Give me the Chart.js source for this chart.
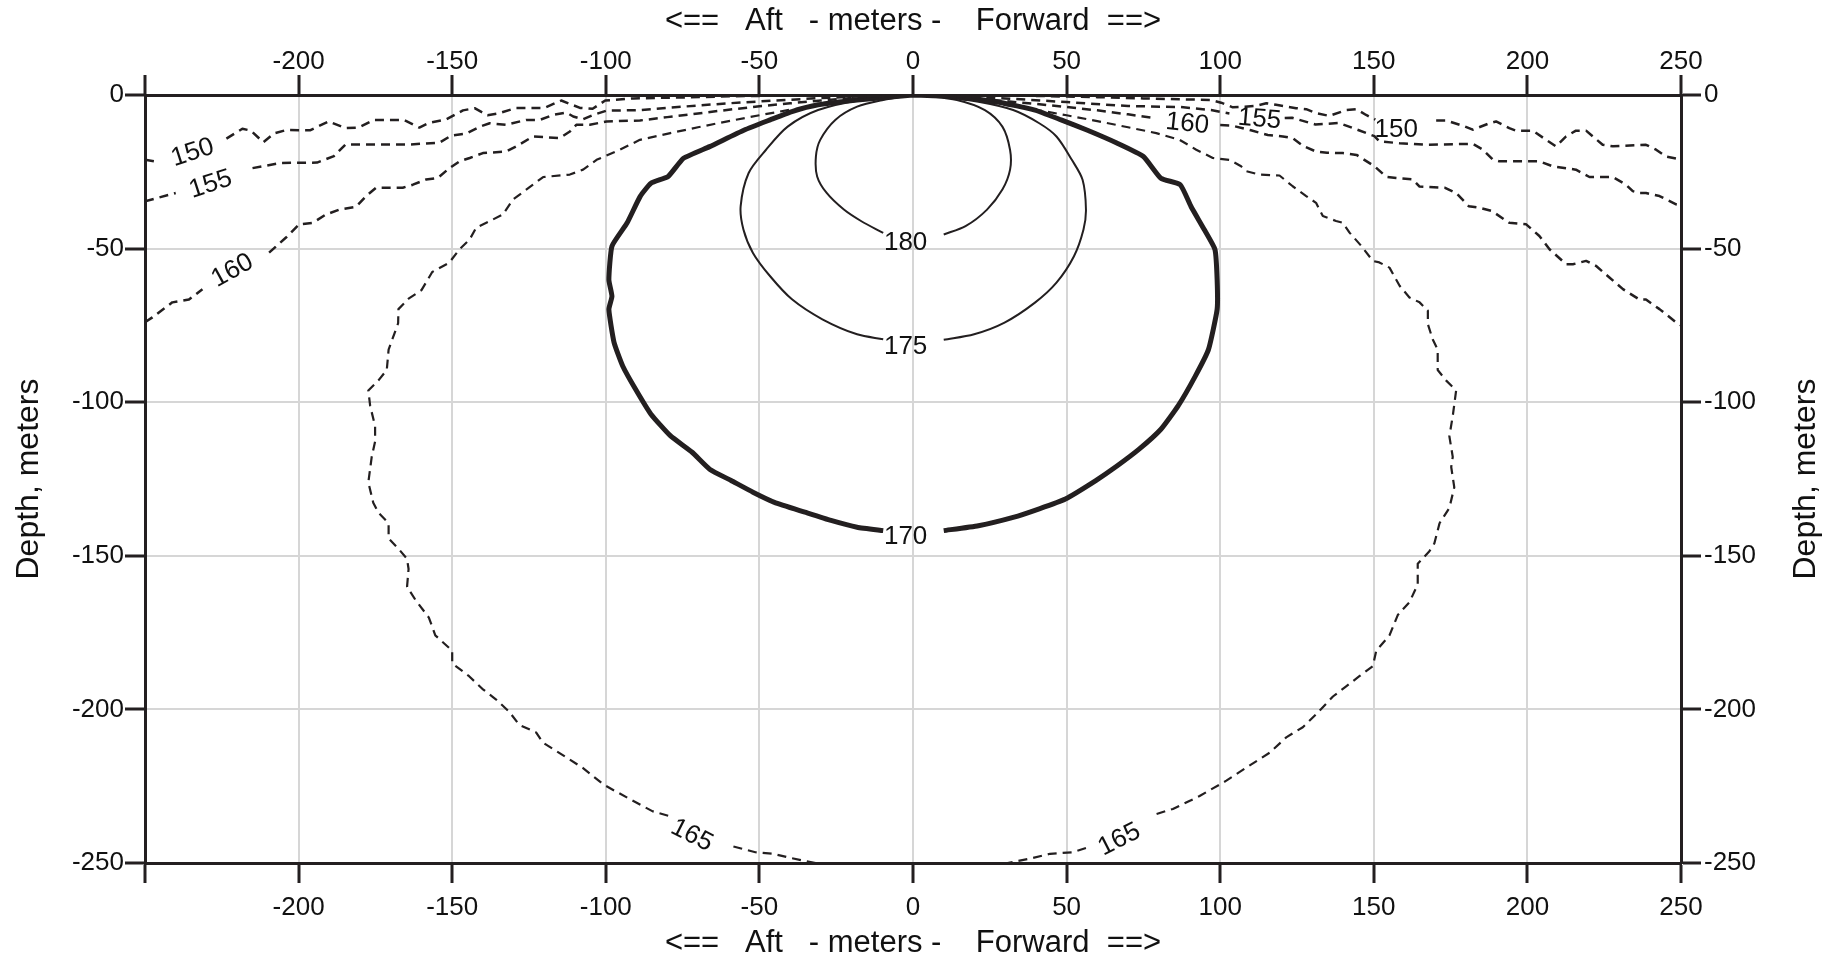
<!DOCTYPE html>
<html>
<head>
<meta charset="utf-8">
<script src="https://cdn.jsdelivr.net/npm/chart.js@4.4.0/dist/chart.umd.min.js"></script>
<style>
  html, body { margin: 0; padding: 0; background: #fff; }
  #chart { display: block; }
</style>
</head>
<body>
<canvas id="chart" width="1837" height="963"></canvas>
<script>
// tick values for both axes
const xTickValues = [-250, -200, -150, -100, -50, 0, 50, 100, 150, 200, 250];
const yTickValues = [0, -50, -100, -150, -200, -250];
const xAxisTitle = "<==   Aft   - meters -    Forward  ==>";
const yAxisTitle = "Depth, meters";

// contour lines, [x, depth] in meters; null = gap where the level label sits
const contour150 = [
  [-250,-21.1],[-247,-21.6], null,
  [-223.5,-14.2],[-218.3,-11.0],[-215.5,-11.6],[-211.5,-15.4],[-208,-12.5],[-204,-11.4],[-196.3,-11.5],
  [-190.2,-8.6],[-184.7,-10.8],[-180.5,-10.6],[-175.5,-8.1],[-165.8,-8.1],[-160.7,-10.6],[-157.6,-9.1],
  [-152,-8.0],[-146.5,-5.0],[-142.7,-4.3],[-138.5,-6.6],[-135,-6.0],[-129.2,-4.2],[-120,-4.2],[-114.5,-1.8],
  [-108.4,-4.2],[-104.3,-4.5],[-100.2,-1.8],[-91,-1.1],[-75,-0.8],[-58.6,-0.4],[-40,-0.2],[-20,-0.1],[0,0],
  [20,-0.1],[40,-0.3],[60,-0.7],[75,-1.1],[86.8,-1.4],[97,-1.6],[100.3,-2.5],[104.1,-4.0],[108,-3.8],
  [111.7,-3.5],[115,-2.7],[118.2,-3.2],[124.7,-4.3],[128,-4.6],[131.2,-5.9],[135.5,-6.8],[141,-4.9],
  [144.3,-4.6],[147.5,-6.5],[150.5,-8.0], null,
  [170.3,-8.3],[173.5,-8.3],[179,-10],[182.2,-11.3],[187.6,-9.2],[189.8,-8.6],[194.1,-10.8],[196.3,-11.6],
  [201.7,-11.6],[206.1,-14.6],[209.3,-16.7],[212.6,-13.5],[215.8,-11.6],[219.1,-11.6],[221.3,-13.5],
  [224.5,-16.2],[227.8,-16.7],[238.6,-16.2],[241.9,-17.8],[245.1,-20],[250,-21]
];
const contour155 = [
  [-250,-34.6],[-240,-31.9], null,
  [-215,-23.8],[-205.7,-22.1],[-194,-22.0],[-188.5,-19.9],[-184.7,-16.1],[-163.7,-16.1],[-154.1,-15.5],
  [-150.3,-13.2],[-145.5,-12.6],[-141,-10.3],[-137.8,-9.2],[-132.4,-9.7],[-125.9,-8.1],[-121.5,-8.1],
  [-117.2,-6.5],[-112.8,-5.7],[-110.6,-7.0],[-107.4,-7.9],[-104.1,-6.5],[-99.8,-5.1],[-88.9,-4.9],
  [-75,-3.8],[-60,-2.7],[-45,-1.8],[-30,-1.0],[-15,-0.4],[0,0],
  [15,-0.4],[30,-1.1],[50,-2.3],[70,-3.6],[86.8,-3.9],[97,-4.9],[103,-6.0], null,
  [121,-7.5],[123.4,-7.4],[131,-9.6],[138.7,-9.1],[144.4,-11.2],[150.2,-13.4],[151.8,-15.1],[158.4,-15.7],
  [167,-16.2],[182.2,-15.9],[185.5,-17.8],[188.7,-21],[190.9,-21.6],[203.9,-21.6],[208.2,-23.2],
  [215.8,-24.3],[220.2,-26.7],[227.8,-26.7],[232.1,-29.2],[234.3,-31.3],[236.4,-31.9],[238.6,-31.9],
  [243,-32.9],[248.4,-35.6],[250,-35.8]
];
const contour160 = [
  [-250,-74],[-247.6,-72.4],[-241.1,-67.5],[-235.7,-66.6],[-231.3,-63.2], null,
  [-209.6,-51.3],[-204.1,-46.4],[-199.8,-42.1],[-195.4,-41.6],[-191.1,-38.9],[-186.7,-37.3],[-181.3,-36.4],
  [-178,-32.9],[-174.8,-30.2],[-166.1,-30.2],[-162.8,-29.2],[-158.5,-27.5],[-154.7,-27],[-150.9,-23.8],
  [-147.6,-21.6],[-144.3,-20.5],[-140,-18.9],[-132.4,-18.4],[-129.1,-16.7],[-123.7,-13.5],[-115,-14],
  [-111.7,-11.9],[-109.6,-9.7],[-105.2,-9.7],[-99.8,-8.6],[-88.9,-8.3],[-80,-7.2],[-70,-6.0],[-60,-4.8],
  [-50,-3.7],[-40,-2.7],[-30,-1.8],[-20,-1.0],[-10,-0.4],[0,0],
  [10,-0.4],[20,-1.1],[30,-2.0],[40,-2.9],[50,-3.9],[60,-5.0],[70,-6.3],[78,-7.4], null,
  [100,-9.8],[104,-10],[110,-11.5],[115.5,-13],[120.4,-13.5],[123.5,-14],[127.2,-16.7],[131.2,-18.4],
  [134.8,-18.8],[139.9,-18.9],[144.4,-19.5],[150.2,-23.2],[154,-26.6],[157.3,-27],[162.7,-27.5],
  [164.9,-29.8],[173.2,-30.2],[176.8,-31.9],[180.9,-36.2],[184.4,-36.7],[188.5,-37.8],[194.1,-41.6],
  [199.6,-42.1],[203.9,-45.9],[207.2,-50.2],[212.6,-55.1],[214.8,-55.1],[219.1,-54],[222.3,-55.6],
  [226.7,-59.4],[231.1,-63.2],[236.5,-66.6],[238.6,-66.6],[243,-69.7],[248.4,-74],[250,-75]
];
const contour165 = [
  [-31.7,-250],[-39.7,-248.4],[-45.5,-247],[-51.3,-246.5],[-58.6,-244.6], null,
  [-79.7,-234.6],[-84.7,-233.2],[-92,-229.3],[-100.7,-224.5],[-107.4,-219.1],[-114,-214.9],[-120.5,-210.8],
  [-122.7,-207.5],[-128.2,-205],[-131.4,-200.8],[-135.8,-196.7],[-140.2,-193.3],[-144.5,-189.2],[-150,-185],
  [-150,-180.9],[-155.5,-175.9],[-157.6,-170.1],[-162,-164.3],[-164.7,-160.1],[-164.2,-154.3],[-164.7,-151],
  [-167.5,-147.7],[-170.7,-144.3],[-170.7,-139.4],[-174,-136],[-175.7,-132.7],[-177.3,-126.1],[-176.2,-117.8],
  [-175.1,-112.8],[-175.1,-107.8],[-176.7,-101.2],[-177.3,-96.2],[-174,-92.9],[-171.3,-89.5],[-170.7,-82.9],
  [-167.6,-74.3],[-167.5,-69.7],[-164.2,-66.3],[-160,-63.5],[-158.5,-61],[-156.5,-57.6],[-151,-54.6],
  [-147.6,-50.2],[-144.3,-47],[-142.2,-43.2],[-138.9,-41.6],[-133.5,-38.9],[-130.2,-34],[-123.7,-29.2],
  [-120.4,-26.7],[-111.7,-25.9],[-107.4,-24.3],[-103,-21.1],[-95.4,-17.8],[-88.9,-14.6],[-79,-12.4],
  [-70,-10.5],[-60,-8.5],[-50,-6.6],[-40,-4.8],[-30,-3.2],[-20,-1.8],[-10,-0.7],[0,0],
  [10,-0.7],[20,-1.8],[30,-3.2],[40,-4.8],[50,-6.6],[60,-8.5],[70,-10.5],[79.2,-12.4],[86.8,-14.6],
  [92.2,-17.8],[97.6,-20.5],[103,-21.1],[106.8,-23.2],[108.5,-24.8],[112.8,-25.9],[119.3,-26.2],
  [123.6,-29.7],[128,-32.9],[131.2,-35.1],[133.4,-39.4],[137.7,-41],[139.9,-41.6],[142.1,-44.8],
  [145.9,-49.1],[149.7,-54],[151.8,-54.5],[155.1,-56.2],[158.4,-62.1],[161.6,-65.9],[164.9,-67.5],
  [167.6,-70.2],[167.6,-74.6],[169.2,-79.6],[170.8,-82.9],[170.8,-89.5],[173.5,-92.9],[176.8,-96.2],
  [175.7,-104.5],[174.6,-111.1],[175.7,-117.8],[175.2,-121.1],[176.2,-127.7],[174.6,-134.4],[171.4,-139.4],
  [169.7,-146],[168.1,-148.5],[164.3,-152.6],[164.3,-159.3],[161.6,-165.1],[157.8,-169.3],[155.1,-175.9],
  [150.8,-180.9],[149.7,-185.9],[145.3,-189.2],[141,-192.5],[136.7,-195.8],[131.2,-201.6],[126.9,-205.8],
  [121.5,-209.1],[116.1,-214.1],[109.5,-218.3],[102,-223.2],[93.3,-228.2],[84.6,-232.4],[78.1,-234.4], null,
  [56.3,-245.1],[51.9,-246.5],[44.6,-247],[38.8,-248.4],[30.8,-250]
];
const contour170 = [
  [0,0],[-18.2,-1.6],[-30.9,-3.2],[-39.4,-5.4],[-46.5,-8.1],[-54.9,-11.4],[-66.2,-16.8],[-74.7,-20.6],
  [-79.7,-26.5],[-85.3,-28.7],[-88.8,-33],[-93.1,-41.7],[-98,-49.2],[-99,-60.1],[-98,-65.5],[-99,-69.8],
  [-97.3,-80.6],[-94.5,-88.2],[-90.3,-95.8],[-85.3,-103.9],[-79,-110.9],[-71.9,-116.3],[-66.2,-121.8],
  [-59.2,-125.5],[-52.1,-129.3],[-45.1,-132.6],[-35.2,-135.8],[-26.7,-138.5],[-18.2,-140.7],[-9.7,-141.8], null,
  [10,-141.8],[21.3,-140.2],[32.6,-137.5],[41.1,-134.7],[49.6,-131.5],[59.5,-125.5],[66.5,-120.7],
  [73.6,-115.3],[80.7,-108.8],[86.3,-101.2],[91.9,-91.5],[96.2,-82.8],[99,-69.8],[99,-60.1],[98.3,-50.3],
  [94.8,-43.8],[90.5,-36.3],[87,-29.2],[80.7,-27.1],[75,-20],[66.5,-15.7],[56.6,-11.4],[48.2,-8.1],
  [39.7,-4.9],[27,-2.2],[12.9,-0.5],[0,0]
];
const contour175 = [
  [0,0],[-16.8,-1.6],[-30.9,-4.9],[-40.8,-10.3],[-47.9,-17.9],[-53.5,-25.4],[-56.1,-36.2],[-55.2,-43.8],
  [-52.1,-51.4],[-46.5,-59],[-39.4,-66.5],[-29.5,-73],[-18.2,-77.9],[-9.7,-79.5], null,
  [10,-79.7],[19.9,-77.9],[29.8,-74.1],[39.7,-67.6],[46.7,-61.1],[52.4,-52.5],[55.5,-43.8],[56.3,-37.3],
  [55.2,-27.6],[51.7,-21.1],[46.7,-13.5],[41.1,-9.2],[32.6,-4.9],[21.3,-2.2],[7.2,-0.3],[0,0]
];
const contour180 = [
  [0,0],[-9.7,-1.6],[-18.2,-3.8],[-25.3,-8.1],[-30.2,-14.6],[-31.6,-20],[-31.2,-26.5],[-28.1,-31.9],
  [-22.5,-37.3],[-16.8,-41.1],[-9.7,-44.9], null,
  [10,-45.4],[17.1,-42.7],[24.1,-37.3],[29.1,-30.8],[31.6,-24.3],[31.6,-17.9],[29.1,-10.3],[23.4,-4.9],
  [14.3,-1.6],[4.4,-0.3],[0,0]
];

// level labels along the lines
const levelText = ['150', '155', '160', '150', '155', '160', '165', '165', '170', '175', '180'];
const levelX = [-234.5, -228.6, -221.5, 157.3, 112.8, 89.3, -72, 67.2, -2.4, -2.4, -2.4];
const levelY = [-18.8, -29.1, -57.2, -11.2, -7.9, -9.4, -241, -242.4, -143.7, -81.9, -48.1];
const levelAngle = [-18, -18, -29, 0, 5, 6, 27, -27, 0, 0, 0];

const ink = '#231f20';
const fontFamily = '"Liberation Sans", Arial, Helvetica, sans-serif';
Chart.defaults.font.family = fontFamily;
Chart.defaults.color = '#111';

function toPoints(arr) {
  return arr.map((p, i) => p ? { x: p[0], y: p[1] } : { x: arr[i - 1][0], y: null });
}

function contourSet(arr, width, dash, tension) {
  return {
    data: toPoints(arr),
    showLine: true,
    borderColor: ink,
    borderWidth: width,
    borderDash: dash,
    borderJoinStyle: 'round',
    tension: tension,
    pointRadius: 0,
    spanGaps: false
  };
}

const levelLabels = {
  id: 'levelLabels',
  afterDatasetsDraw(chart) {
    const ctx = chart.ctx;
    const sx = chart.scales.x, sy = chart.scales.y;
    ctx.save();
    ctx.font = '26px ' + fontFamily;
    ctx.fillStyle = '#111';
    ctx.textAlign = 'center';
    ctx.textBaseline = 'middle';
    levelText.forEach((t, i) => {
      ctx.save();
      ctx.translate(sx.getPixelForValue(levelX[i]), sy.getPixelForValue(levelY[i]));
      ctx.rotate(levelAngle[i] * Math.PI / 180);
      ctx.fillText(t, 0, 0);
      ctx.restore();
    });
    ctx.restore();
  }
};

// right axis title reads bottom-to-top like the left one
const rightTitle = {
  id: 'rightTitle',
  afterDraw(chart) {
    const ctx = chart.ctx;
    const s = chart.scales.y2;
    ctx.save();
    ctx.translate(s.right - 31, (s.top + s.bottom) / 2);
    ctx.rotate(-Math.PI / 2);
    ctx.font = '32px ' + fontFamily;
    ctx.fillStyle = '#111';
    ctx.textAlign = 'center';
    ctx.textBaseline = 'middle';
    ctx.fillText(yAxisTitle, 0, 0);
    ctx.restore();
  }
};

const tickFont = { size: 26 };
const gridLines = { color: '#d6d6d6', lineWidth: 2, tickColor: ink, tickWidth: 3, tickLength: 20 };
const axisBorder = { color: ink, width: 3 };
const xTicks = s => { s.ticks = xTickValues.map(v => ({ value: v })); };
const yTicks = s => { s.ticks = yTickValues.map(v => ({ value: v })); };
const xLabel = v => (v === -250 ? '' : String(v));

new Chart(document.getElementById('chart'), {
  type: 'scatter',
  data: {
    datasets: [
      contourSet(contour150, 2.5, [9, 6], 0),
      contourSet(contour155, 2.5, [9, 6], 0),
      contourSet(contour160, 2.5, [9, 6], 0),
      contourSet(contour165, 2.2, [9, 6], 0),
      contourSet(contour170, 5, [], 0.15),
      contourSet(contour175, 2, [], 0.3),
      contourSet(contour180, 2, [], 0.3)
    ]
  },
  options: {
    responsive: false,
    animation: false,
    devicePixelRatio: 1,
    layout: { padding: 0 },
    plugins: { legend: { display: false }, tooltip: { enabled: false } },
    scales: {
      x: {
        type: 'linear', position: 'bottom', min: -250, max: 250,
        afterBuildTicks: xTicks,
        afterFit: s => { s.height = 100; },
        ticks: { callback: xLabel, font: tickFont, padding: 9, maxRotation: 0, autoSkip: false },
        grid: gridLines,
        border: axisBorder,
        title: { display: true, text: xAxisTitle, font: { size: 31 }, color: '#111', padding: { top: 0, bottom: 1 } }
      },
      x2: {
        type: 'linear', position: 'top', min: -250, max: 250,
        afterBuildTicks: xTicks,
        afterFit: s => { s.height = 95; },
        ticks: { callback: xLabel, font: tickFont, padding: -2, maxRotation: 0, autoSkip: false },
        grid: Object.assign({}, gridLines, { drawOnChartArea: false }),
        border: axisBorder,
        title: { display: true, text: xAxisTitle, font: { size: 31 }, color: '#111', padding: { top: 3, bottom: 0 } }
      },
      y: {
        type: 'linear', position: 'left', min: -250, max: 0,
        afterBuildTicks: yTicks,
        afterFit: s => { s.width = 145; },
        ticks: { font: tickFont, padding: 1, autoSkip: false, callback: v => String(v) },
        grid: gridLines,
        border: axisBorder,
        title: { display: true, text: yAxisTitle, font: { size: 32 }, color: '#111', padding: { top: 10, bottom: 0 } }
      },
      y2: {
        type: 'linear', position: 'right', min: -250, max: 0,
        afterBuildTicks: yTicks,
        afterFit: s => { s.width = 156; },
        ticks: { font: tickFont, padding: 3, autoSkip: false, callback: v => String(v) },
        grid: Object.assign({}, gridLines, { drawOnChartArea: false }),
        border: axisBorder
      }
    }
  },
  plugins: [levelLabels, rightTitle]
});
</script>
</body>
</html>
